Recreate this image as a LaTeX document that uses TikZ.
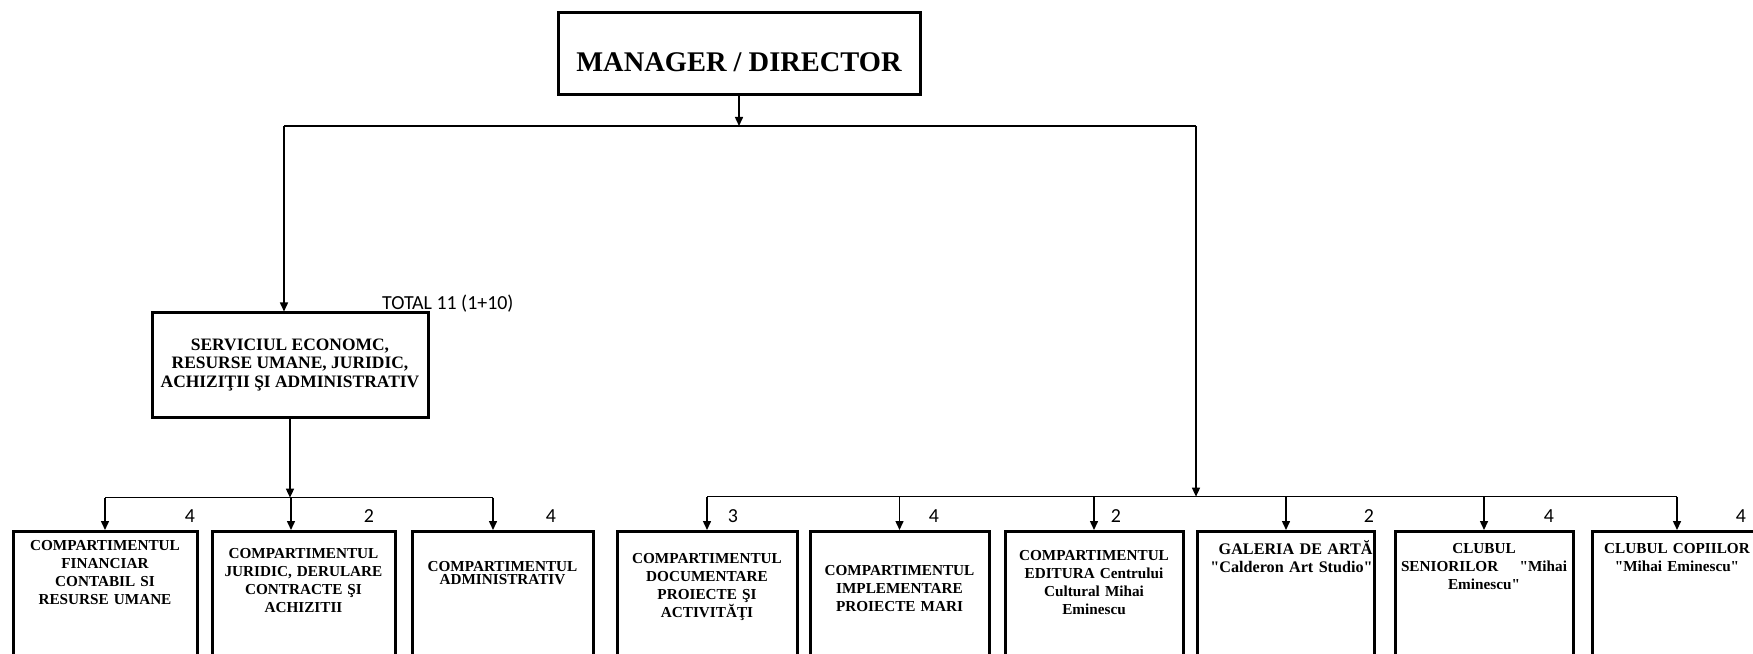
\documentclass[tikz,border=0pt]{standalone}
\usepackage{fontspec}
\setmainfont{Liberation Serif}[Ligatures=TeXOff]
\newfontfamily\calibrifont{Carlito}
\usetikzlibrary{arrows.meta,calc,positioning}

\newcommand{\unitfont}{\fontsize{13}{15.4}\selectfont\bfseries}

\begin{document}
\begin{tikzpicture}[
    head/.style={draw, line width=0.09cm, minimum width=10.86cm, minimum height=2.46cm,
        font=\fontsize{24.3}{26}\selectfont\bfseries, text height=1.05cm, text depth=0cm},
    service/.style={draw, line width=0.09cm, minimum width=8.28cm, minimum height=3.12cm,
        align=center, font=\fontsize{14.9}{15.6}\selectfont\bfseries},
    unit/.style={draw, line width=0.09cm, anchor=north, align=center, text width=#1,
        inner xsep=0.06cm, text depth=4cm, font=\unitfont},
    staff/.style={inner sep=0pt, font=\calibrifont\fontsize{17}{19}\selectfont},
    link/.style={line width=0.045cm},
    arr/.style={link, -{Triangle[length=0.27cm,width=0.24cm]}}
    ]
                        \useasboundingbox (0,0) rectangle (52.590000,19.590000);
                        \clip (0,0) rectangle (52.590000,19.590000);

                        % Drawing box MANAGER / DIRECTOR
                        \node (mgr) [head] at (22.170000,17.970000) {MANAGER / DIRECTOR};%

                        % Drawing box SERVICIUL
                        \node (svc) [service] at (8.700000,8.640000) {SERVICIUL ECONOMC,\\RESURSE UMANE, JURIDIC,\\ACHIZIŢII ŞI ADMINISTRATIV};%
                        \node (total) [staff, anchor=base west] at (11.460000,10.290000) {TOTAL 11 (1+10)};%

                        % Drawing boxes of the left row
                        \node (u1) [unit=5.400000cm, inner ysep=0.27cm] at (3.150000,3.690000) {COMPARTIMENTUL\\FINANCIAR\\CONTABIL SI\\RESURSE UMANE};%
                        \node (u2) [unit=5.370000cm, inner ysep=0.51cm] at (9.105000,3.690000) {COMPARTIMENTUL\\JURIDIC, DERULARE\\CONTRACTE ŞI\\ACHIZITII};%
                        \node (u3) [unit=5.310000cm, inner ysep=0.90cm, font=\fontsize{13}{11.2}\selectfont\bfseries] at (15.075000,3.690000) {COMPARTIMENTUL\\ADMINISTRATIV};%

                        % Drawing boxes of the right row
                        \node (u4) [unit=5.280000cm, inner ysep=0.66cm] at (21.210000,3.690000) {COMPARTIMENTUL\\DOCUMENTARE\\PROIECTE ŞI\\ACTIVITĂŢI};%
                        \node (u5) [unit=5.250000cm, inner ysep=1.02cm] at (26.985000,3.690000) {COMPARTIMENTUL\\IMPLEMENTARE\\PROIECTE MARI};%
                        \node (u6) [unit=5.220000cm, inner ysep=0.57cm] at (32.820000,3.690000) {COMPARTIMENTUL\\EDITURA Centrului\\Cultural Mihai\\Eminescu};%
                        \node (u7) [unit=5.200000cm, inner ysep=0.27cm, inner xsep=0.06cm, align=right, font=\fontsize{13.8}{15.4}\selectfont\bfseries] at (38.580000,3.690000) {GALERIA DE ARTĂ\\"Calderon Art Studio"};%
                        \node (u8) [unit=5.220000cm, inner ysep=0.36cm] at (44.520000,3.690000) {CLUBUL\\SENIORILOR\hspace{1.4em}"Mihai\\Eminescu"};%
                        \node (u9) [unit=4.980000cm, inner ysep=0.36cm] at (50.310000,3.690000) {CLUBUL COPIILOR\\"Mihai Eminescu"};%

                        % Marking points of the lines
                        \coordinate (topL) at (8.520000,15.810000);%
                        \coordinate (topR) at (35.880000,15.810000);%
                        \coordinate (rowL) at (0,4.660000);%
                        \coordinate (rowR) at (0,4.690000);%
                        \coordinate (a2) at ([xshift=-0.375cm]u2.north);%
                        \coordinate (a3) at ([xshift=-0.285cm]u3.north);%

                        % Drawing line MANAGER -> services
                        \draw [link] (topL) -- (topR);%
                        \draw [arr] (mgr.south) -- (mgr.south |- topL);%
                        \draw [arr] (topL) -- (topL |- svc.north);%
                        \draw [arr] (topR) -- (topR |- rowR);%
                        \draw [arr] (svc.south) -- (svc.south |- rowL);%

                        % Drawing line of the left row
                        \draw [link] (u1.north |- rowL) -- (a3 |- rowL);%
                        \draw [arr] (u1.north |- rowL) -- (u1.north);%
                        \draw [arr] (a2 |- rowL) -- (a2);%
                        \draw [arr] (a3 |- rowL) -- (a3);%

                        % Drawing line of the right row
                        \draw [link] (u4.north |- rowR) -- (u9.north |- rowR);%
                        \draw [arr] (u4.north |- rowR) -- (u4.north);%
                        \draw [arr] (u5.north |- rowR) -- (u5.north);%
                        \draw [arr] (u6.north |- rowR) -- (u6.north);%
                        \draw [arr] (u7.north |- rowR) -- (u7.north);%
                        \draw [arr] (u8.north |- rowR) -- (u8.north);%
                        \draw [arr] (u9.north |- rowR) -- (u9.north);%

                        % Marking staff numbers
                        \node (n1) [staff] at (5.700000,4.110000) {4};%
                        \node (n2) [staff] at (11.070000,4.110000) {2};%
                        \node (n3) [staff] at (16.530000,4.110000) {4};%
                        \node (n4) [staff] at (21.990000,4.110000) {3};%
                        \node (n5) [staff] at (28.020000,4.110000) {4};%
                        \node (n6) [staff] at (33.480000,4.110000) {2};%
                        \node (n7) [staff] at (41.070000,4.110000) {2};%
                        \node (n8) [staff] at (46.470000,4.110000) {4};%
                        \node (n9) [staff] at (52.230000,4.110000) {4};%
                    \end{tikzpicture}
\end{document}
